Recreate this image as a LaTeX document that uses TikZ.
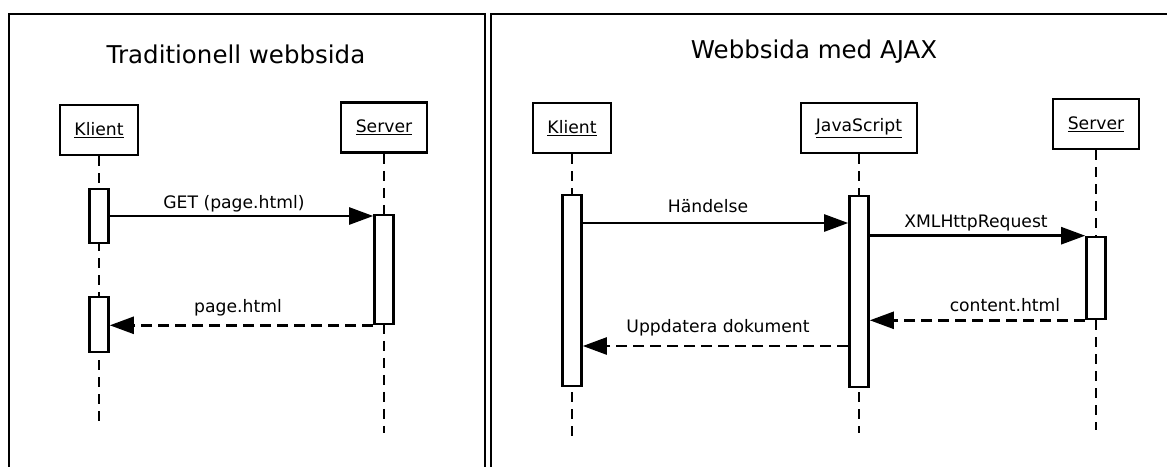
\documentclass[tikz,border=0pt]{standalone}
\usepackage{fontspec}
\setmainfont{DejaVu Sans}
\usetikzlibrary{arrows.meta}

\begin{document}
\begin{tikzpicture}[x=1pt,y=-1pt,
  frame/.style={line width=2.8pt},
  head/.style={draw, line width=2.6pt, fill=white, inner sep=0pt,
    minimum height=50pt, font=\fontsize{17.2}{20}\selectfont},
  act/.style={draw, line width=2.6pt, fill=white, minimum width=19pt, inner sep=0pt},
  life/.style={line width=1.2pt, dash pattern=on 10pt off 7pt},
  call/.style={line width=2.5pt, -{Triangle[length=24pt,width=17pt]}},
  reply/.style={call, dash pattern=on 11pt off 6pt},
  lbl/.style={font=\fontsize{17.2}{20}\selectfont, inner sep=0pt, anchor=base},
  title/.style={font=\fontsize{24.5}{28}\selectfont, inner sep=0pt, anchor=base}]

\useasboundingbox (0,0) rectangle (1167,466);

% panel frames (open at the bottom)
\draw[frame] (9,480) -- (9,14) -- (485,14) -- (485,480);
\draw[frame] (491,480) -- (491,14) -- (1180,14);

% titles
\node[title] (t1) at (236,63) {Traditionell webbsida};
\node[title] (t2) at (814,58) {Webbsida med AJAX};

% ---------- traditional page ----------
\node[head, minimum width=78pt] (k1) at (99,130) {\underline{Klient}};
\node[head, minimum width=86pt] (s1) at (384,127.5) {\underline{Server}};
\coordinate (k1end) at (99,427);
\coordinate (s1end) at (384,433);
\draw[life] (k1.south) -- (k1end);
\draw[life] (s1.south) -- (s1end);

\node[act, minimum height=54pt] (k1a) at (99,216) {};
\node[act, minimum height=55pt] (k1b) at (99,324.5) {};
\node[act, minimum height=109pt] (s1a) at (384,269.5) {};

\draw[call] (k1a.east |- 0,216) -- (s1a.west |- 0,216);
\draw[reply] (s1a.south west) -- (k1b.east |- s1a.south west);
\node[lbl] (m1) at (234,208) {GET (page.html)};
\node[lbl] (m2) at (238,312) {page.html};

% ---------- AJAX page ----------
\node[head, minimum width=78pt] (k2) at (572,128) {\underline{Klient}};
\node[head, minimum width=116pt] (j2) at (859,128) {\underline{JavaScript}};
\node[head, minimum width=86pt] (s2) at (1096,124) {\underline{Server}};
\coordinate (k2end) at (572,437);
\coordinate (j2end) at (859,433);
\coordinate (s2end) at (1096,430);
\draw[life] (k2.south) -- (k2end);
\draw[life] (j2.south) -- (j2end);
\draw[life] (s2.south) -- (s2end);

\node[act, minimum height=191pt] (k2a) at (572,290.5) {};
\node[act, minimum height=191pt] (j2a) at (859,291.5) {};
\node[act, minimum height=82pt] (s2a) at (1096,278) {};

\draw[call] (k2a.east |- 0,223) -- (j2a.west |- 0,223);
\draw[call] (j2a.east |- s2a.north west) -- (s2a.north west);
\draw[reply] (s2a.south west) -- (j2a.east |- s2a.south west);
\draw[reply] (j2a.west |- 0,346) -- (k2a.east |- 0,346);
\node[lbl] (m3) at (708,212) {Händelse};
\node[lbl] (m4) at (976,227) {XMLHttpRequest};
\node[lbl] (m5) at (1005,311) {content.html};
\node[lbl] (m6) at (718,332) {Uppdatera dokument};
\end{tikzpicture}
\end{document}
